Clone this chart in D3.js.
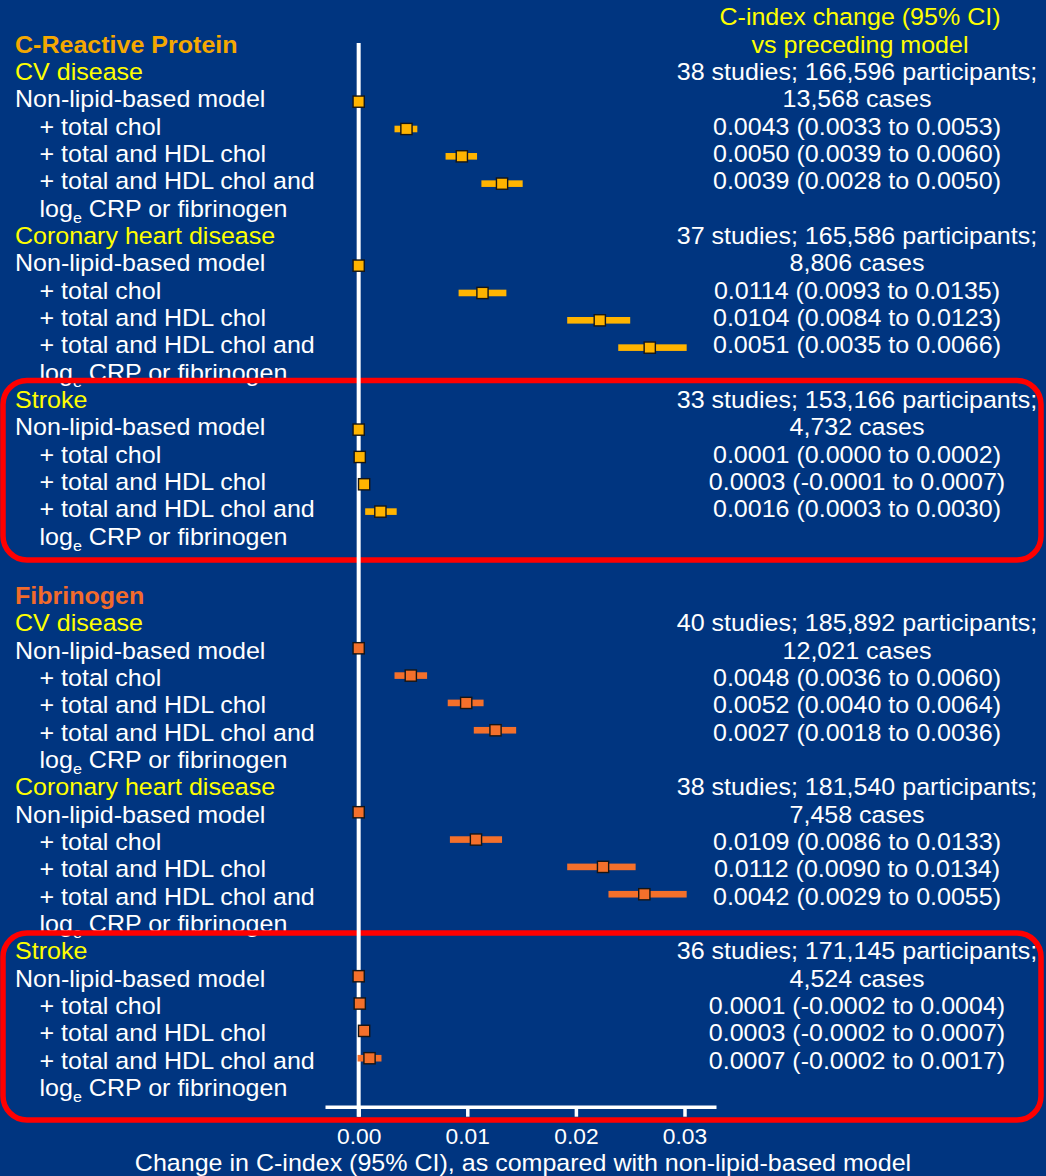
<!DOCTYPE html>
<html><head><meta charset="utf-8">
<script src="https://cdn.jsdelivr.net/npm/d3@7"></script>
<style>
html,body{margin:0;padding:0;background:#003580;}
svg{display:block;}
</style>
</head><body>
<svg id="chart" width="1046" height="1176"></svg>
<script>
// ---- data ----
const biomarkers = ["C-Reactive Protein", "Fibrinogen"];
const outcomes = ["CV disease", "Coronary heart disease", "Stroke"];
const modelSteps = ["Non-lipid-based model", "+ total chol", "+ total and HDL chol", "+ total and HDL chol and"];
const studies = [[38, 37, 33], [40, 38, 36]];
const participants = [[166596, 165586, 153166], [185892, 181540, 171145]];
const cases = [[13568, 8806, 4732], [12021, 7458, 4524]];

// C-index change vs preceding model: [estimate, lower, upper] for each added step
const crpStepChange = [
  [[0.0043, 0.0033, 0.0053], [0.0050, 0.0039, 0.0060], [0.0039, 0.0028, 0.0050]],
  [[0.0114, 0.0093, 0.0135], [0.0104, 0.0084, 0.0123], [0.0051, 0.0035, 0.0066]],
  [[0.0001, 0.0000, 0.0002], [0.0003, -0.0001, 0.0007], [0.0016, 0.0003, 0.0030]]
];
const fibStepChange = [
  [[0.0048, 0.0036, 0.0060], [0.0052, 0.0040, 0.0064], [0.0027, 0.0018, 0.0036]],
  [[0.0109, 0.0086, 0.0133], [0.0112, 0.0090, 0.0134], [0.0042, 0.0029, 0.0055]],
  [[0.0001, -0.0002, 0.0004], [0.0003, -0.0002, 0.0007], [0.0007, -0.0002, 0.0017]]
];

// Change in C-index vs non-lipid-based model (plotted): [estimate, lower, upper] per model
const crpCumulative = [
  [[0, 0, 0], [0.0044, 0.0033, 0.0054], [0.0095, 0.0080, 0.0109], [0.0132, 0.0113, 0.0151]],
  [[0, 0, 0], [0.0114, 0.0092, 0.0136], [0.0222, 0.0192, 0.0250], [0.0268, 0.0239, 0.0302]],
  [[0, 0, 0], [0.0001, 0.0000, 0.0002], [0.0005, 0.0002, 0.0008], [0.0020, 0.0006, 0.0035]]
];
const fibCumulative = [
  [[0, 0, 0], [0.0048, 0.0033, 0.0063], [0.0099, 0.0082, 0.0115], [0.0126, 0.0106, 0.0145]],
  [[0, 0, 0], [0.0108, 0.0084, 0.0132], [0.0225, 0.0192, 0.0255], [0.0263, 0.0230, 0.0302]],
  [[0, 0, 0], [0.0001, -0.0001, 0.0003], [0.0005, 0.0002, 0.0008], [0.0010, -0.0001, 0.0021]]
];

const xTicks = [0, 0.01, 0.02, 0.03];
const axisTitle = "Change in C-index (95% CI), as compared with non-lipid-based model";
const headerLines = ["C-index change (95% CI)", "vs preceding model"];

// ---- styling / layout ----
const BG = "#003580";
const WHITE = "#ffffff";
const YELLOW = "#ffff00";
const titleColors = ["#f5a800", "#f26b2b"];
const markerColors = ["#ffb400", "#f4702b"];
const FONT = "'Liberation Sans', Arial, Helvetica, sans-serif";
const STRETCH = 1.075;

const svg = d3.select("#chart");
svg.append("rect").attr("width", 1046).attr("height", 1176).attr("fill", BG);

const x = d3.scaleLinear().domain([-0.0031, 0.0329]).range([325, 716]);
const rowY = r => 52.6 + r * 27.33;   // marker row position (baseline reference)
const textShift = [0, 4.8];           // extra text offset per biomarker block
const LEFT = 15, INDENT = 39.5, RIGHT_C = 857;

const fmt4 = d3.formatLocale({decimal: ".", thousands: ",", grouping: [3], currency: ["", ""], minus: "-"}).format(".4f");
const fmtInt = d3.format(",");

function label(g, txt, px, py, opts = {}) {
  const t = g.append("text")
    .attr("transform", `translate(${px},${py}) scale(${STRETCH},1)`)
    .attr("font-family", FONT)
    .attr("font-size", opts.size || 23.3)
    .attr("font-weight", opts.bold ? "bold" : "normal")
    .attr("fill", opts.color || WHITE)
    .attr("text-anchor", opts.anchor || "start");
  if (typeof txt === "string") t.text(txt);
  else txt(t);
  return t;
}

const textLayer = svg.append("g");
const plotLayer = svg.append("g");

// header of the right-hand column
label(textLayer, headerLines[0], 860, rowY(-1), {color: YELLOW, anchor: "middle"});
label(textLayer, headerLines[1], 860, rowY(0), {color: YELLOW, anchor: "middle"});

const stepChanges = [crpStepChange, fibStepChange];
const cumulative = [crpCumulative, fibCumulative];

biomarkers.forEach((bm, b) => {
  const base = b * 20;
  const ty = r => rowY(r) + textShift[b];
  label(textLayer, bm, LEFT, ty(base), {bold: true, color: titleColors[b]});
  outcomes.forEach((oc, k) => {
    const r0 = base + 1 + 6 * k;
    label(textLayer, oc, LEFT, ty(r0), {color: YELLOW});
    modelSteps.forEach((s, i) => {
      label(textLayer, s, i === 0 ? LEFT : INDENT, ty(r0 + 1 + i));
    });
    label(textLayer, t => {
      t.append("tspan").text("log");
      t.append("tspan").attr("font-size", 15).attr("dy", 6).text("e");
      t.append("tspan").attr("dy", -6).text(" CRP or fibrinogen");
    }, INDENT, ty(r0 + 5));

    // right-hand column
    label(textLayer, `${studies[b][k]} studies; ${fmtInt(participants[b][k])} participants;`, RIGHT_C, ty(r0), {anchor: "middle"});
    label(textLayer, `${fmtInt(cases[b][k])} cases`, RIGHT_C, ty(r0 + 1), {anchor: "middle"});
    stepChanges[b][k].forEach((d, i) => {
      label(textLayer, `${fmt4(d[0])} (${fmt4(d[1])} to ${fmt4(d[2])})`, RIGHT_C, ty(r0 + 2 + i), {anchor: "middle"});
    });
  });
});

// highlight boxes around the stroke results
const boxes = [[380.5, 560], [933, 1120]];
boxes.forEach(([y0, y1]) => {
  svg.append("rect")
    .attr("x", 3).attr("y", y0).attr("width", 1038).attr("height", y1 - y0)
    .attr("rx", 24).attr("ry", 24)
    .attr("fill", "none").attr("stroke", "#ff0000").attr("stroke-width", 5.5);
});

// x axis
const axisY = 1106.7;
const axisG = svg.append("g").attr("transform", `translate(0,${axisY})`)
  .call(d3.axisBottom(x).tickValues(xTicks).tickFormat(d3.format(".2f")).tickSizeInner(10).tickSizeOuter(0));
axisG.select(".domain").attr("stroke", WHITE).attr("stroke-width", 3.5);
axisG.selectAll(".tick line").attr("stroke", WHITE).attr("stroke-width", 3.5);
axisG.selectAll(".tick text")
  .attr("fill", WHITE).attr("font-family", FONT).attr("font-size", 21.5)
  .attr("y", 37.6).attr("dy", 0)
  .attr("transform", `scale(1.06,1)`);

// zero reference line
svg.append("line")
  .attr("x1", x(0)).attr("x2", x(0)).attr("y1", 43).attr("y2", axisY + 10)
  .attr("stroke", WHITE).attr("stroke-width", 4);

label(svg, axisTitle, 523, 1170.7, {anchor: "middle", size: 23.3});

// point estimates and confidence intervals
biomarkers.forEach((bm, b) => {
  const base = b * 20;
  outcomes.forEach((oc, k) => {
    const r0 = base + 1 + 6 * k;
    cumulative[b][k].forEach((d, i) => {
      const cy = rowY(r0 + 1 + i) - 5.6;
      if (d[2] > d[1]) {
        plotLayer.append("rect")
          .attr("x", x(d[1])).attr("width", x(d[2]) - x(d[1]))
          .attr("y", cy - 3.3).attr("height", 6.6)
          .attr("fill", markerColors[b]);
      }
      plotLayer.append("rect")
        .attr("x", x(d[0]) - 5.6).attr("y", cy - 5.6)
        .attr("width", 11.2).attr("height", 11.2)
        .attr("fill", markerColors[b]).attr("stroke", "#151515").attr("stroke-width", 1.4);
    });
  });
});
svg.node().appendChild(plotLayer.node());
</script>
</body></html>
